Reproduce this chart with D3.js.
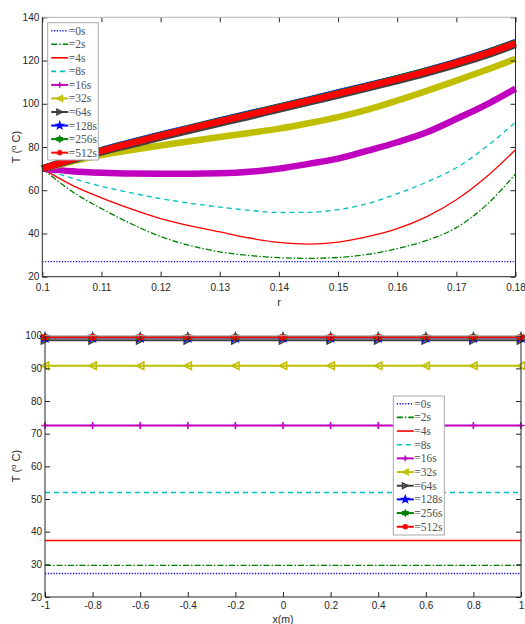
<!DOCTYPE html>
<html>
<head>
<meta charset="utf-8">
<script src="https://cdn.jsdelivr.net/npm/d3@7"></script>
<style>
  body { margin: 0; background: #fff; }
  svg { display: block; }
  .tick text { font-family: "Liberation Sans", Arial, sans-serif; font-size: 10px; fill: #262626; }
</style>
</head>
<body>
<svg id="chart" width="525" height="624"></svg>
<script>
// ---- legend labels and time levels ----
const seriesLabels = ["=0s", "=2s", "=4s", "=8s", "=16s", "=32s", "=64s", "=128s", "=256s", "=512s"];

// ---- upper panel: radial temperature profiles T(r) ----
const radius = [0.1, 0.105, 0.11, 0.115, 0.12, 0.125, 0.13, 0.135, 0.14, 0.145, 0.15, 0.155, 0.16, 0.165, 0.17, 0.175, 0.18];
const rT0   = [27, 27, 27, 27, 27, 27, 27, 27, 27, 27, 27, 27, 27, 27, 27, 27, 27];
const rT2   = [70, 59.5, 51.5, 44.5, 38.6, 34.4, 31.5, 29.8, 28.8, 28.5, 28.9, 30.3, 33.0, 36.8, 42.7, 53.0, 67.5];
const rT4   = [70, 62.4, 56.5, 51.4, 46.9, 43.5, 40.7, 37.9, 35.9, 35.1, 36.0, 38.5, 42.2, 47.8, 55.6, 66.0, 78.7];
const rT8   = [70, 65.6, 61.8, 58.8, 56.1, 54.0, 52.2, 50.7, 49.7, 49.8, 51.0, 53.8, 58.4, 63.8, 70.4, 80.0, 91.5];
const rT16  = [70, 68.8, 68.1, 67.7, 67.6, 67.6, 67.8, 68.5, 70.0, 72.2, 74.6, 78.3, 82.2, 86.8, 93.0, 99.5, 107.0];
const rT32  = [70, 73.3, 76.3, 78.6, 80.7, 82.7, 84.6, 86.5, 88.5, 91.0, 93.8, 97.3, 101.5, 106.0, 110.7, 115.6, 120.8];
const rT64  = [70, 73.8, 77.5, 80.9, 84.3, 87.6, 90.8, 94.0, 97.3, 100.5, 103.8, 107.1, 110.5, 114.1, 118.0, 122.2, 127.2];
const rT128 = [70, 74.6, 78.6, 82.2, 85.7, 89.0, 92.3, 95.5, 98.7, 101.9, 105.2, 108.5, 111.9, 115.5, 119.4, 123.7, 128.5];
const rT256 = [70, 74.4, 78.4, 82.0, 85.5, 88.8, 92.1, 95.3, 98.5, 101.7, 105.0, 108.3, 111.7, 115.3, 119.2, 123.5, 128.3];
const rT512 = [70, 74.3, 78.2, 81.8, 85.3, 88.6, 91.8, 95.0, 98.2, 101.4, 104.7, 108.0, 111.4, 115.0, 118.9, 123.2, 128.0];
const radialSeries = [rT0, rT2, rT4, rT8, rT16, rT32, rT64, rT128, rT256, rT512];
const rTicks = [0.1, 0.11, 0.12, 0.13, 0.14, 0.15, 0.16, 0.17, 0.18];
const rTickLabels = ["0.1", "0.11", "0.12", "0.13", "0.14", "0.15", "0.16", "0.17", "0.18"];
const tTicksTop = [20, 40, 60, 80, 100, 120, 140];

// ---- lower panel: temperature along x ----
const xPos = [-1, -0.8, -0.6, -0.4, -0.2, 0, 0.2, 0.4, 0.6, 0.8, 1];
const xT0   = [27.2, 27.2, 27.2, 27.2, 27.2, 27.2, 27.2, 27.2, 27.2, 27.2, 27.2];
const xT2   = [29.7, 29.7, 29.7, 29.7, 29.7, 29.7, 29.7, 29.7, 29.7, 29.7, 29.7];
const xT4   = [37.3, 37.3, 37.3, 37.3, 37.3, 37.3, 37.3, 37.3, 37.3, 37.3, 37.3];
const xT8   = [52.0, 52.0, 52.0, 52.0, 52.0, 52.0, 52.0, 52.0, 52.0, 52.0, 52.0];
const xT16  = [72.5, 72.5, 72.5, 72.5, 72.5, 72.5, 72.5, 72.5, 72.5, 72.5, 72.5];
const xT32  = [90.8, 90.8, 90.8, 90.8, 90.8, 90.8, 90.8, 90.8, 90.8, 90.8, 90.8];
const xT64  = [98.6, 98.6, 98.6, 98.6, 98.6, 98.6, 98.6, 98.6, 98.6, 98.6, 98.6];
const xT128 = [99.4, 99.4, 99.4, 99.4, 99.4, 99.4, 99.4, 99.4, 99.4, 99.4, 99.4];
const xT256 = [99.5, 99.5, 99.5, 99.5, 99.5, 99.5, 99.5, 99.5, 99.5, 99.5, 99.5];
const xT512 = [99.5, 99.5, 99.5, 99.5, 99.5, 99.5, 99.5, 99.5, 99.5, 99.5, 99.5];
const linearSeries = [xT0, xT2, xT4, xT8, xT16, xT32, xT64, xT128, xT256, xT512];
const xTicks = [-1, -0.8, -0.6, -0.4, -0.2, 0, 0.2, 0.4, 0.6, 0.8, 1];
const xTickLabels = ["-1", "-0.8", "-0.6", "-0.4", "-0.2", "0", "0.2", "0.4", "0.6", "0.8", "1"];
const tTicksBottom = [20, 30, 40, 50, 60, 70, 80, 90, 100];

// ---- line styling per time level ----
const colors = ["#0000ff", "#008000", "#ff0000", "#00bfbf", "#bf00bf", "#bfbf00", "#404040", "#0000ff", "#008000", "#ff0000"];
const dashes = ["1.2,1.6", "6,2,1.5,2", null, "5,4", null, null, null, null, null, null];
const markers = [null, null, null, null, "plus", "triLeft", "triRight", "pentagram", "hexagram", "asterisk"];

function markerPath(kind, s) {
  switch (kind) {
    case "plus": return `M${-s},0H${s}M0,${-s}V${s}`;
    case "triLeft": return `M${-s},0L${s},${-s}L${s},${s}Z`;
    case "triRight": return `M${s},0L${-s},${-s}L${-s},${s}Z`;
    case "pentagram": {
      let p = "";
      for (let i = 0; i < 10; i++) {
        const a = -Math.PI / 2 + i * Math.PI / 5;
        const rr = i % 2 === 0 ? s * 1.2 : s * 0.5;
        p += (i === 0 ? "M" : "L") + (rr * Math.cos(a)).toFixed(2) + "," + (rr * Math.sin(a)).toFixed(2);
      }
      return p + "Z";
    }
    case "hexagram": {
      const tri = off => {
        let p = "";
        for (let i = 0; i < 3; i++) {
          const a = off + i * 2 * Math.PI / 3;
          p += (i === 0 ? "M" : "L") + (s * Math.cos(a)).toFixed(2) + "," + (s * Math.sin(a)).toFixed(2);
        }
        return p + "Z";
      };
      return tri(-Math.PI / 2) + tri(Math.PI / 2);
    }
    case "asterisk": {
      const d = s * 0.75;
      return `M${-s},0H${s}M0,${-s}V${s}M${-d},${-d}L${d},${d}M${-d},${d}L${d},${-d}`;
    }
  }
  return "";
}

const svg = d3.select("#chart");

function drawFrame(g, x, y, xt, xtl, yt, xPad) {
  const [x0, x1] = x.range();
  const [y1, y0] = y.range();
  // inward ticks on all four sides
  const bottom = g.append("g").attr("transform", `translate(0,${y1})`)
    .call(d3.axisBottom(x).tickValues(xt).tickFormat((d, i) => xtl[i]).tickSizeInner(-5).tickSizeOuter(0).tickPadding(xPad));
  const top = g.append("g").attr("transform", `translate(0,${y0})`)
    .call(d3.axisTop(x).tickValues(xt).tickFormat("").tickSizeInner(-5).tickSizeOuter(0));
  const left = g.append("g").attr("transform", `translate(${x0},0)`)
    .call(d3.axisLeft(y).tickValues(yt).tickSizeInner(-5).tickSizeOuter(0).tickPadding(3));
  const right = g.append("g").attr("transform", `translate(${x1},0)`)
    .call(d3.axisRight(y).tickValues(yt).tickFormat("").tickSizeInner(-5).tickSizeOuter(0));
  [bottom, top, left, right].forEach(a => {
    a.select(".domain").remove();
    a.selectAll(".tick line").attr("stroke", "#262626").attr("stroke-width", 1);
  });
  // box edges
  g.append("line").attr("x1", x0).attr("x2", x1).attr("y1", y0).attr("y2", y0).attr("stroke", "#b4b4b4");
  g.append("line").attr("x1", x0).attr("x2", x0).attr("y1", y0).attr("y2", y1).attr("stroke", "#262626");
  g.append("line").attr("x1", x0).attr("x2", x1).attr("y1", y1).attr("y2", y1).attr("stroke", "#262626");
  g.append("line").attr("x1", x1).attr("x2", x1).attr("y1", y0).attr("y2", y1).attr("stroke", "#262626");
}

function yTitle(g, cx, cy) {
  const t = g.append("text")
    .attr("transform", `translate(${cx},${cy}) rotate(-90)`)
    .attr("text-anchor", "middle")
    .attr("font-family", "Liberation Sans, Arial, sans-serif")
    .attr("font-size", 11).attr("fill", "#262626");
  t.append("tspan").text("T (");
  t.append("tspan").attr("font-size", 8).attr("dy", -4).text("o");
  t.append("tspan").attr("dy", 4).text(" C)");
}

function drawLegend(g, bx, by, bw, bh, rowY0, rowStep) {
  g.append("rect").attr("x", bx).attr("y", by).attr("width", bw).attr("height", bh)
    .attr("fill", "#fff").attr("stroke", "#a8a8a8").attr("stroke-width", 1);
  seriesLabels.forEach((lab, i) => {
    const yy = rowY0 + i * rowStep;
    const lx0 = bx + 3.5, lx1 = bx + 20.5;
    g.append("line").attr("x1", lx0).attr("x2", lx1).attr("y1", yy).attr("y2", yy)
      .attr("stroke", colors[i]).attr("stroke-width", markers[i] ? 2 : 1.6)
      .attr("stroke-dasharray", dashes[i]);
    if (markers[i]) {
      g.append("path").attr("d", markerPath(markers[i], 2.8))
        .attr("transform", `translate(${(lx0 + lx1) / 2},${yy})`)
        .attr("fill", "none").attr("stroke", colors[i]).attr("stroke-width", 1.5);
    }
    g.append("text").attr("x", lx1 + 0.5).attr("y", yy + 4)
      .attr("font-family", "Liberation Serif, DejaVu Serif, serif")
      .attr("font-size", 11.5).attr("fill", "#505050").text(lab);
  });
}

// ================= upper panel =================
const gTop = svg.append("g");
const xR = d3.scaleLinear().domain([0.1, 0.18]).range([42.3, 515.5]);
const yR = d3.scaleLinear().domain([20, 140]).range([276.7, 17.3]);

const radialLine = d3.line().x((d, i) => xR(radius[i])).y(d => yR(d)).curve(d3.curveMonotoneX);
radialSeries.forEach((vals, i) => {
  gTop.append("path").attr("d", radialLine(vals))
    .attr("fill", "none").attr("stroke", colors[i])
    .attr("stroke-width", markers[i] ? 6.5 : 1.3)
    .attr("stroke-dasharray", dashes[i]);
});
drawFrame(gTop, xR, yR, rTicks, rTickLabels, tTicksTop, 7);
gTop.append("text").attr("x", 279).attr("y", 306).attr("text-anchor", "middle")
  .attr("font-family", "Liberation Sans, Arial, sans-serif").attr("font-size", 11).attr("fill", "#262626").text("r");
yTitle(gTop, 20, 147);
drawLegend(gTop, 47.7, 22.7, 50.6, 137.3, 30.7, 13.55);

// ================= lower panel =================
const gBot = svg.append("g");
const xX = d3.scaleLinear().domain([-1, 1]).range([45, 521]);
const yX = d3.scaleLinear().domain([20, 100]).range([597, 335.7]);

const flatLine = d3.line().x((d, i) => xX(xPos[i])).y(d => yX(d));
linearSeries.forEach((vals, i) => {
  gBot.append("path").attr("d", flatLine(vals))
    .attr("fill", "none").attr("stroke", colors[i])
    .attr("stroke-width", markers[i] ? 1.8 : 1.3)
    .attr("stroke-dasharray", dashes[i]);
  if (markers[i]) {
    gBot.selectAll(null).data(vals).enter().append("path")
      .attr("d", markerPath(markers[i], 3.6))
      .attr("transform", (d, j) => `translate(${xX(xPos[j])},${yX(d)})`)
      .attr("fill", "none").attr("stroke", colors[i]).attr("stroke-width", 1.6);
  }
});
drawFrame(gBot, xX, yX, xTicks, xTickLabels, tTicksBottom, 5);
gBot.append("text").attr("x", 283).attr("y", 623).attr("text-anchor", "middle")
  .attr("font-family", "Liberation Sans, Arial, sans-serif").attr("font-size", 10.5).attr("fill", "#262626").text("x(m)");
yTitle(gBot, 20, 466);
drawLegend(gBot, 393.3, 396, 51, 139, 403.7, 13.67);
</script>
</body>
</html>
